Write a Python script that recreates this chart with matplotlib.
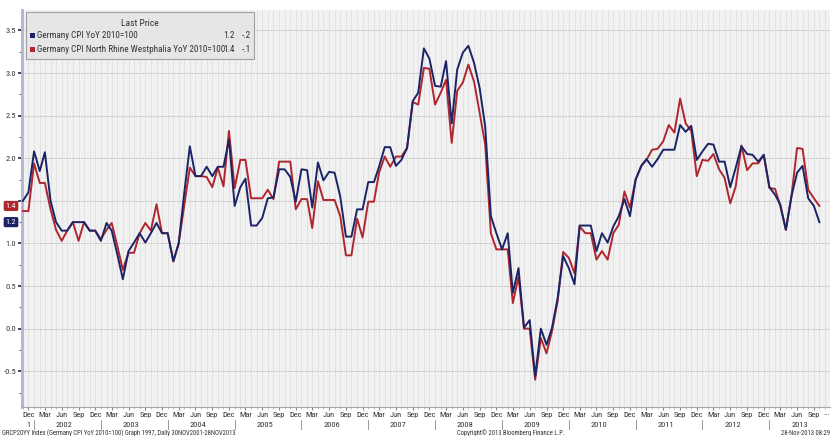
import numpy as np
import pandas as pd
import matplotlib
matplotlib.use('Agg')
import matplotlib.pyplot as plt
import matplotlib.dates as mdates
from matplotlib import font_manager
from matplotlib.font_manager import FontProperties
from matplotlib.patches import Rectangle
from matplotlib.lines import Line2D
from matplotlib.transforms import blended_transform_factory

# ---------------- data (monthly, Nov 2001 - Oct 2013) ----------------
start_month = '2001-11-01'
germany_cpi = [
    1.50, 1.60,
    2.08, 1.85, 2.07, 1.50, 1.25, 1.15, 1.15, 1.25, 1.25, 1.25, 1.15, 1.15,
    1.03, 1.24, 1.15, 0.87, 0.58, 0.91, 1.01, 1.12, 1.01, 1.12, 1.24, 1.12,
    1.12, 0.79, 1.00, 1.60, 2.14, 1.79, 1.79, 1.90, 1.79, 1.90, 1.90, 2.22,
    1.44, 1.66, 1.76, 1.21, 1.21, 1.30, 1.53, 1.54, 1.87, 1.87, 1.78, 1.49,
    1.87, 1.86, 1.42, 1.95, 1.74, 1.84, 1.83, 1.55, 1.08, 1.08, 1.40, 1.40,
    1.72, 1.72, 1.90, 2.13, 2.13, 1.91, 1.98, 2.12, 2.67, 2.77, 3.29, 3.17,
    2.85, 2.84, 3.14, 2.41, 3.04, 3.24, 3.32, 3.12, 2.82, 2.37, 1.32, 1.12,
    0.93, 1.12, 0.42, 0.71, 0.01, 0.10, -0.56, 0.00, -0.19, 0.01, 0.36, 0.85,
    0.71, 0.52, 1.21, 1.21, 1.21, 0.91, 1.12, 1.01, 1.20, 1.32, 1.52, 1.32,
    1.75, 1.91, 1.99, 1.90, 1.99, 2.10, 2.10, 2.10, 2.39, 2.31, 2.38, 1.98,
    2.08, 2.17, 2.16, 1.96, 1.96, 1.66, 1.89, 2.14, 2.05, 2.04, 1.96, 2.04,
    1.66, 1.57, 1.46, 1.16, 1.55, 1.83, 1.91, 1.53, 1.44, 1.25,
]
nrw_cpi = [
    1.38, 1.38,
    1.94, 1.71, 1.71, 1.40, 1.16, 1.03, 1.15, 1.25, 1.03, 1.25, 1.15, 1.15,
    1.05, 1.16, 1.24, 0.97, 0.69, 0.89, 0.89, 1.12, 1.24, 1.15, 1.46, 1.12,
    1.12, 0.79, 1.00, 1.45, 1.89, 1.79, 1.79, 1.78, 1.66, 1.89, 1.67, 2.32,
    1.65, 1.98, 1.98, 1.53, 1.53, 1.53, 1.63, 1.52, 1.96, 1.96, 1.96, 1.40,
    1.52, 1.52, 1.18, 1.73, 1.51, 1.51, 1.51, 1.32, 0.86, 0.86, 1.29, 1.07,
    1.49, 1.49, 1.83, 2.02, 1.90, 2.02, 2.02, 2.12, 2.66, 2.63, 3.06, 3.05,
    2.63, 2.77, 2.92, 2.18, 2.79, 2.89, 3.10, 2.90, 2.53, 2.16, 1.12, 0.93,
    0.93, 0.93, 0.30, 0.61, 0.00, 0.00, -0.60, -0.11, -0.29, -0.03, 0.33, 0.90,
    0.83, 0.65, 1.20, 1.12, 1.12, 0.81, 0.91, 0.81, 1.12, 1.22, 1.61, 1.42,
    1.75, 1.91, 1.98, 2.10, 2.11, 2.20, 2.39, 2.30, 2.70, 2.41, 2.32, 1.79,
    1.98, 1.97, 2.05, 1.87, 1.77, 1.47, 1.67, 2.15, 1.86, 1.94, 1.94, 2.04,
    1.65, 1.64, 1.44, 1.16, 1.55, 2.12, 2.11, 1.63, 1.53, 1.44,
]
series_names = ['Germany CPI YoY 2010=100',
                'Germany CPI North Rhine Westphalia YoY 2010=100']
last_values = ['1.2', '1.4']
changes = ['-.2', '-.1']
y_ticks = [-0.5, 0.0, 0.5, 1.0, 1.5, 2.0, 2.5, 3.0, 3.5]
years = list(range(2002, 2014))
footer_left = 'GRCP20YY Index (Germany CPI YoY 2010=100) Graph 1997, Daily 30NOV2001-28NOV2013'
footer_mid = 'Copyright\u00a9 2013 Bloomberg Finance L.P.'
footer_right = '28-Nov-2013 08:29'

dates = pd.date_range(start_month, periods=len(germany_cpi), freq='MS')

# ---------------- font: prefer a condensed face if one is installed ----------------
cond_file = None
for pref in ['Liberation Sans Narrow', 'Roboto Condensed', 'Open Sans Condensed',
             'DejaVu Sans']:
    for f in font_manager.fontManager.ttflist:
        if f.name == pref and f.style == 'normal' and str(f.weight) in ('400', 'normal', 'regular') \
                and (pref != 'DejaVu Sans' or f.stretch in ('condensed', 'semi-condensed')):
            cond_file = f.fname
            break
    if cond_file:
        break
if cond_file:
    FP = FontProperties(fname=cond_file)
    SCALE = 1.0
else:
    FP = FontProperties(family='DejaVu Sans')
    SCALE = 0.88


def fprop(size):
    p = FP.copy()
    p.set_size(size * SCALE)
    return p


BLUE = '#1b2466'
RED = '#b0262e'
TXT = '#333333'

W, H = 832, 436
fig = plt.figure(figsize=(W / 100, H / 100), dpi=100)
fig.patch.set_facecolor('white')
ax = fig.add_axes([22 / W, 1 - 407 / H, (830 - 22) / W, (407 - 10) / H])
ax.set_facecolor('#f1f1f1')

ax.plot(dates, nrw_cpi, color=RED, lw=1.4, zorder=3)
ax.plot(dates, germany_cpi, color=BLUE, lw=1.4, zorder=4)

ax.set_xlim(pd.Timestamp('2001-10-27'), pd.Timestamp('2013-11-28'))
ax.set_ylim(-0.92, 3.74)

# y axis (the 1.5 label sits under the last-value tag, as in the original)
ax.set_yticks(y_ticks)
ax.set_yticklabels(['' if v == 1.5 else f'{v:.1f}' for v in y_ticks], color=TXT)
for lab in ax.get_yticklabels():
    lab.set_fontproperties(fprop(6.0))
ax.set_yticks(np.arange(-0.75, 3.75, 0.5), minor=True)
ax.tick_params(axis='y', which='major', length=3, width=1.2, color='#222244', pad=1)
ax.tick_params(axis='y', which='minor', length=2, width=0.8, color='#666688')

# x axis
ax.xaxis.set_major_locator(mdates.MonthLocator(bymonth=[3, 6, 9, 12]))
ax.xaxis.set_major_formatter(mdates.DateFormatter('%b'))
ax.xaxis.set_minor_locator(mdates.MonthLocator())
ax.tick_params(axis='x', which='major', length=2.5, width=0.8, color='#888888',
               labelcolor=TXT, pad=1.0)
ax.tick_params(axis='x', which='minor', length=1.5, width=0.5, color='#aaaaaa')
fig.canvas.draw()
for lab in ax.get_xticklabels():
    lab.set_fontproperties(fprop(6.0))

# grid
ax.grid(True, axis='x', which='both', color='#cfcfcf', lw=0.6, ls=(0, (1, 1)))
ax.grid(True, axis='y', which='major', color='#c4c4c4', lw=0.7, ls=(0, (2, 1)))
ax.set_axisbelow(True)

for s in ['top', 'right']:
    ax.spines[s].set_visible(False)
ax.spines['left'].set_color('#b4b4cc')
ax.spines['left'].set_linewidth(2)
ax.spines['bottom'].set_color('#a8a8a8')
ax.spines['bottom'].set_linewidth(0.8)

# year labels and separators under the month labels
btr = blended_transform_factory(ax.transData, ax.transAxes)
y_year = (407 - 425) / (407 - 10)
for yr in years:
    ax.text(pd.Timestamp(f'{yr}-06-15'), y_year, str(yr), transform=btr,
            ha='center', va='center', fontproperties=fprop(6.0), color=TXT)
    ax.add_line(Line2D([pd.Timestamp(f'{yr}-01-01')] * 2,
                       [(407 - 420) / 397, (407 - 429) / 397],
                       transform=btr, color='#999999', lw=0.7, clip_on=False))
ax.text(pd.Timestamp('2001-12-01'), y_year, '1', transform=btr,
        ha='center', va='center', fontproperties=fprop(6.0), color=TXT)
fig.text(827 / W, 1 - 413 / H, '...', ha='center', va='center',
         fontproperties=fprop(6.0), color=TXT)

# footer
fy = 1 - 433.5 / H
fig.text(2 / W, fy, footer_left, fontproperties=fprop(4.8), color=TXT, ha='left', va='center')
fig.text(457 / W, fy, footer_mid, fontproperties=fprop(4.8), color=TXT, ha='left', va='center')
fig.text(830 / W, fy, footer_right, fontproperties=fprop(4.8), color=TXT, ha='right', va='center')

# legend box
fig.patches.append(Rectangle((26 / W, 1 - 59 / H), (254 - 26) / W, (59 - 12) / H,
                             transform=fig.transFigure, facecolor='#e6e6e6',
                             edgecolor='#a0a0a0', lw=0.8, zorder=10))
fig.text(140 / W, 1 - 23 / H, 'Last Price', ha='center', va='center',
         fontproperties=fprop(6.8), color=TXT, zorder=11)
for k, (nm, col) in enumerate(zip(series_names, [BLUE, RED])):
    yy = 1 - (35 + 14 * k) / H
    fig.patches.append(Rectangle((30 / W, yy - 2.5 / H), 5 / W, 5 / H,
                                 transform=fig.transFigure, facecolor=col,
                                 edgecolor='none', zorder=11))
    fig.text(37 / W, yy, nm, ha='left', va='center', fontproperties=fprop(6.6),
             color=TXT, zorder=11)
    fig.text(235 / W, yy, last_values[k], ha='right', va='center',
             fontproperties=fprop(6.6), color=TXT, zorder=11)
    fig.text(251 / W, yy, changes[k], ha='right', va='center',
             fontproperties=fprop(6.6), color=TXT, zorder=11)

# last value tags on the left axis
ftr = blended_transform_factory(fig.transFigure, ax.transData)
for val, txt, col in [(nrw_cpi[-1], last_values[1], RED), (germany_cpi[-1], last_values[0], BLUE)]:
    fig.text(11 / W, val, txt, transform=ftr, ha='center', va='center',
             fontproperties=fprop(6.0), color='white', zorder=12,
             bbox=dict(boxstyle='round,pad=0.25,rounding_size=0.2',
                       facecolor=col, edgecolor='none'))

fig.savefig('out.png', dpi=100)
